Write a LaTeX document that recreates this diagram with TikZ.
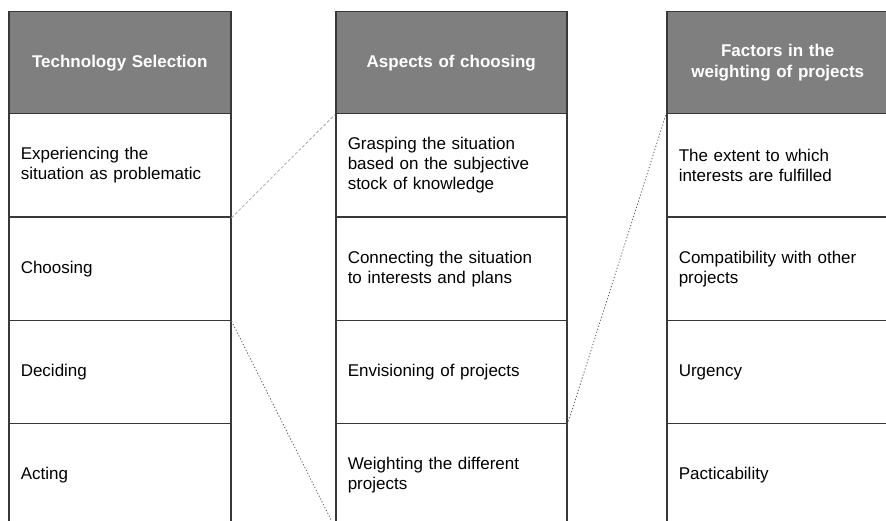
\documentclass[tikz,border=0pt]{standalone}
\usepackage{fontspec}
\setmainfont{Liberation Sans}
\definecolor{bordc}{HTML}{383838}
\definecolor{headc}{HTML}{7F7F7F}
\definecolor{dashc}{HTML}{A8A8A8}
\definecolor{dotc}{HTML}{5A5A5A}
\begin{document}
\begin{tikzpicture}[x=1pt,y=-1pt,
  cell/.style={draw=bordc, line width=1.5pt, fill=white, anchor=north west, rectangle,
    inner xsep=12pt, inner ysep=0pt, align=left, text=black,
    font=\fontsize{17}{20}\selectfont},
  head/.style={cell, fill=headc, text=white, align=center,
    font=\bfseries\fontsize{17}{21}\selectfont},
  colA/.style={text width=198pt},
  colB/.style={text width=207pt},
  colC/.style={text width=198pt},
  rowh/.style={minimum height=102pt},
  rowbox/.style={minimum height=103.3pt},
  dashlink/.style={draw=dashc, line width=0.8pt, dash pattern=on 3pt off 2pt},
  dotlink/.style={draw=dotc, line width=0.8pt, dash pattern=on 1.2pt off 2pt}]
\clip (0,0) rectangle (886,521);
\fill[white] (0,0) rectangle (886,521);
% column 1
\node[head,colA,rowh] (h1) at (8,11) {Technology Selection};
\node[cell,colA,rowbox] (a1) at (8,113) {Experiencing the\\situation as problematic};
\node[cell,colA,rowbox] (a2) at (8,216.3) {Choosing};
\node[cell,colA,rowbox] (a3) at (8,319.6) {Deciding};
\node[cell,colA,rowbox] (a4) at (8,422.9) {Acting};
% column 2
\node[head,colB,rowh] (h2) at (335,11) {Aspects of choosing};
\node[cell,colB,rowbox] (b1) at (335,113) {Grasping the situation\\based on the subjective\\stock of knowledge};
\node[cell,colB,rowbox] (b2) at (335,216.3) {Connecting the situation\\to interests and plans};
\node[cell,colB,rowbox] (b3) at (335,319.6) {Envisioning of projects};
\node[cell,colB,rowbox] (b4) at (335,422.9) {Weighting the different\\projects};
% column 3
\node[head,colC,rowh] (h3) at (666,11) {Factors in the\\weighting of projects};
\node[cell,colC,rowbox] (c1) at (666,113) {The extent to which\\interests are fulfilled};
\node[cell,colC,rowbox] (c2) at (666,216.3) {Compatibility with other\\projects};
\node[cell,colC,rowbox] (c3) at (666,319.6) {Urgency};
\node[cell,colC,rowbox] (c4) at (666,422.9) {Pacticability};
% connectors
\draw[dashlink] (a1.south east) -- (h2.south west);
\draw[dotlink] (a2.south east) -- (b4.south west);
\draw[dotlink] (b3.south east) -- (h3.south west);
\end{tikzpicture}
\end{document}
